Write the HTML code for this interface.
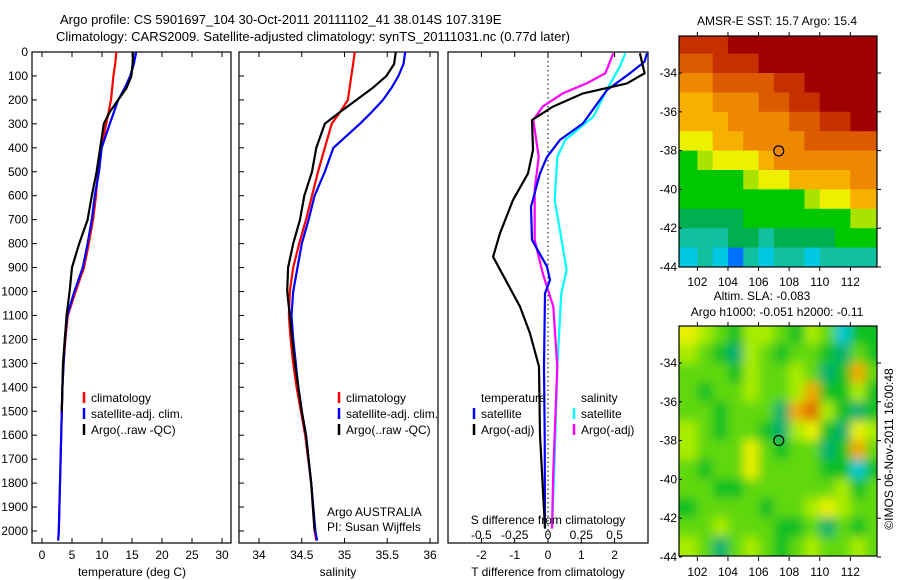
<!DOCTYPE html>
<html><head><meta charset="utf-8"><style>
html,body{margin:0;padding:0;background:#fff;}
svg{display:block;font-family:"Liberation Sans",sans-serif;}
text{font-size:12px;fill:#000;}
</style></head><body>
<svg id="fig" width="900" height="580" viewBox="0 0 900 580">
<defs>
<clipPath id="clipP3"><rect x="448" y="52" width="200" height="491"/></clipPath>
<clipPath id="clipSLA"><rect x="679" y="326" width="198" height="230"/></clipPath>
<filter id="blur" x="-10%" y="-10%" width="120%" height="120%"><feGaussianBlur stdDeviation="5"/></filter>
</defs>
<text x="60" y="24" style="font-size:13px">Argo profile: CS 5901697_104 30-Oct-2011 20111102_41 38.014S 107.319E</text>
<text x="56" y="41" style="font-size:13px">Climatology: CARS2009. Satellite-adjusted climatology: synTS_20111031.nc (0.77d later)</text>
<g id="g"></g>
</svg>
<script>
// ---------- data ----------
const depths = [0,50,100,150,200,250,300,400,500,600,700,800,900,1000,1100,1200,1300,1400,1500,1600,1800,2000,2040];
const tempClim = [12.4,12.2,11.9,11.7,11.5,11.1,10.7,9.9,9.3,9.0,8.5,7.8,7.0,5.6,4.3,3.9,3.6,3.4,3.3,3.2,3.0,2.8,2.7];
const tempSat  = [15.7,15.3,14.7,13.8,12.7,12.0,11.3,9.95,9.5,8.8,8.3,7.6,6.8,5.4,4.2,3.8,3.6,3.4,3.3,3.2,3.0,2.8,2.7];
const tempArgo = [15.2,15.1,14.9,14.1,12.7,11.3,10.3,9.7,9.1,8.3,7.6,6.2,5.0,4.6,4.1,3.8,3.5,3.4,3.3,null,null,null,null];
const salClim = [35.12,35.10,35.08,35.06,35.04,34.95,34.85,34.77,34.69,34.62,34.55,34.47,34.40,34.36,34.35,34.37,34.40,34.44,34.49,34.54,34.61,34.65,34.67];
const salSat  = [35.71,35.69,35.63,35.55,35.45,35.32,35.18,34.87,34.77,34.65,34.58,34.50,34.45,34.40,34.38,34.40,34.43,34.46,34.50,34.55,34.61,34.66,34.68];
const salArgo = [35.60,35.58,35.49,35.33,35.14,34.95,34.77,34.67,34.62,34.53,34.48,34.40,34.34,34.33,34.36,34.39,34.42,34.46,34.50,34.55,34.61,34.65,null];
const dtArgoDepth = [5,89,131,173,228,284,409,507,618,757,855,924,1063,1175,1314,1600,1990];
const dtArgo      = [2.76,2.9,2.37,1.05,0.15,-0.48,-0.45,-0.6,-1.05,-1.44,-1.65,-1.38,-0.84,-0.54,-0.27,-0.24,-0.09];
const dtSatDepth = [5,40,89,159,298,367,438,507,646,785,896,952,1008,1314,1600,1990];
const dtSat      = [2.97,2.9,2.46,1.77,1.05,0.36,-0.03,-0.24,-0.51,-0.48,-0.03,0.06,-0.09,-0.12,-0.1,-0.09];
const dsArgoDepth = [5,89,131,173,228,284,438,576,785,924,1063,1314,1745,1990];
const dsArgo      = [0.49,0.43,0.29,0.11,-0.04,-0.11,-0.07,-0.1,-0.1,-0.04,0.04,0.07,0.04,0.03];
const dsSatDepth = [5,61,159,270,367,438,618,813,910,1008,1314,1700,1990];
const dsSat      = [0.58,0.54,0.44,0.34,0.13,0.07,0.05,0.11,0.14,0.1,0.07,0.05,0.03];
const depthTicks = [0,100,200,300,400,500,600,700,800,900,1000,1100,1200,1300,1400,1500,1600,1700,1800,1900,2000];
const tempTicks = [0,5,10,15,20,25,30];
const salTicks = [34,34.5,35,35.5,36];
const salTickLabels = ["34","34.5","35","35.5","36"];
const dTTicks = [-2,-1,0,1,2];
const dSTicks = [-0.5,-0.25,0,0.25,0.5];
const dSTickLabels = ["-0.5","-0.25","0","0.25","0.5"];
const lonTicks = [102,104,106,108,110,112];
const latTicks = [-34,-36,-38,-40,-42,-44];
const sstRows = ["1110000000000","2211100000000","3322221100000","4433322110000","4443333221100",
 "5544333322222","7655543333333","7777655444433","7777777765544","8888777777766","9998898888777","a9ab9a99a9999"];
const sstColors = ["#a00000","#c43000","#dc5a00","#ee8800","#f8b000","#eef000","#a8e400","#00c800","#00b050","#10c0a0","#00c8e0","#0070ff"];
const slaRows = ["5432443243022","4321432332132","3332433431263","3233433462242","3323331674212","4323321452154",
 "4333532331263","3233533332202","3322333333423","2333323345433","3343332231323","4313432343343"];
const slaColors = ["#00c8d0","#00b070","#10c020","#60d810","#a8ec00","#e8f000","#f0a800","#e07000"];
const argoLon = 107.319, argoLat = -38.014;

// ---------- helpers ----------
const NS="http://www.w3.org/2000/svg";
const G=document.getElementById('g');
function mk(tag,attrs,parent){const e=document.createElementNS(NS,tag);for(const k in attrs)e.setAttribute(k,attrs[k]);(parent||G).appendChild(e);return e;}
function txt(x,y,s,anchor,parent,size){const e=mk('text',{x:x,y:y,'text-anchor':anchor||'start'},parent);if(size)e.style.fontSize=size+'px';e.textContent=s;return e;}
const yD = d => 52 + d*0.2395;
const xT = t => 42 + t*6;
const xS = s => 259 + (s-34)*85.5;
const xDT = t => 548 + t*33.3;
const xDS = s => 548 + s*133.2;
function line(xs, ds, xf, color, name, parent){
  let p='';let pen=false;
  for(let i=0;i<xs.length;i++){ if(xs[i]==null){pen=false;continue;} p+=(pen?'L':'M')+xf(xs[i]).toFixed(1)+','+yD(ds[i]).toFixed(1);pen=true;}
  const e=mk('path',{d:p,fill:'none',stroke:color,'stroke-width':2.2,'stroke-linejoin':'round'},parent);
  
  
  return e;
}
function frame(x,y,w,h,name){const e=mk('rect',{x:x,y:y,width:w,height:h,fill:'none',stroke:'#000','stroke-width':1.2});
  
  }
function legend(x,y,items,name){
  const g=mk('g',{});
  
  
  items.forEach((it,i)=>{ if(it[0]) mk('line',{x1:x,x2:x,y1:y+i*16-10,y2:y+i*16+1,stroke:it[0],'stroke-width':2.5},g); txt(x+7,y+i*16,it[1],'start',g);});
}

// ---------- panel 1 ----------
frame(32,52,199,491,'temperature-panel');
depthTicks.forEach(d=>{ mk('line',{x1:32,x2:37,y1:yD(d),y2:yD(d),stroke:'#000'}); const t=txt(28,yD(d)+4,String(d),'end');  });
tempTicks.forEach(t=>{ mk('line',{x1:xT(t),x2:xT(t),y1:52,y2:57,stroke:'#000'}); mk('line',{x1:xT(t),x2:xT(t),y1:538,y2:543,stroke:'#000'}); txt(xT(t),559,String(t),'middle');});
line(tempClim,depths,xT,'#ff0000','temp-climatology-line');
line(tempSat,depths,xT,'#0000ff','temp-satellite-line');
line(tempArgo,depths,xT,'#000000','temp-argo-line');
legend(84,402,[['#ff0000','climatology'],['#0000ff','satellite-adj. clim.'],['#000','Argo(..raw -QC)']],'temperature-legend');
txt(132,576,'temperature (deg C)','middle');

// ---------- panel 2 ----------
frame(239,52,199,491,'salinity-panel');
depthTicks.forEach(d=>{ mk('line',{x1:239,x2:244,y1:yD(d),y2:yD(d),stroke:'#000'});});
salTicks.forEach((s,i)=>{ mk('line',{x1:xS(s),x2:xS(s),y1:52,y2:57,stroke:'#000'}); mk('line',{x1:xS(s),x2:xS(s),y1:538,y2:543,stroke:'#000'}); txt(xS(s),559,salTickLabels[i],'middle');});
line(salClim,depths,xS,'#ff0000','sal-climatology-line');
line(salSat,depths,xS,'#0000ff','sal-satellite-line');
line(salArgo,depths,xS,'#000000','sal-argo-line');
legend(339,402,[['#ff0000','climatology'],['#0000ff','satellite-adj. clim.'],['#000','Argo(..raw -QC)']],'salinity-legend');
txt(327,516,'Argo AUSTRALIA','start');
txt(327,531,'PI: Susan Wijffels','start');
txt(338,576,'salinity','middle');

// ---------- panel 3 ----------
frame(448,52,200,491,'difference-panel');
dTTicks.forEach(t=>{ mk('line',{x1:xDT(t),x2:xDT(t),y1:52,y2:57,stroke:'#000'}); mk('line',{x1:xDT(t),x2:xDT(t),y1:538,y2:543,stroke:'#000'}); txt(xDT(t),559,String(t),'middle');});
mk('line',{x1:548,x2:548,y1:52,y2:543,stroke:'#000','stroke-dasharray':'1.5,3'});
const p3=mk('g',{'clip-path':'url(#clipP3)'});
line(dsSat,dsSatDepth,xDS,'#00ffff','sal-diff-satellite-line',p3);
line(dsArgo,dsArgoDepth,xDS,'#ff00ff','sal-diff-argo-line',p3);
line(dtSat,dtSatDepth,xDT,'#0000ff','temp-diff-satellite-line',p3);
line(dtArgo,dtArgoDepth,xDT,'#000000','temp-diff-argo-line',p3);
legend(474,402,[[null,'temperature'],['#0000ff','satellite'],['#000','Argo(-adj)']],'temp-diff-legend');
legend(574,402,[[null,'salinity'],['#00ffff','satellite'],['#ff00ff','Argo(-adj)']],'sal-diff-legend');
txt(548,524,'S difference from climatology','middle');
dSTicks.forEach((s,i)=>txt(xDS(s),539,dSTickLabels[i],'middle'));
txt(548,576,'T difference from climatology','middle');

// ---------- maps ----------
const xL = lon => 679 + (lon-100.8)*15.3;
function mapAxes(top,name){
  const yLat = lat => top+37 + (-34-lat)*19.4;
  frame(679,top,198,top===36?231:230,name);
  lonTicks.forEach(l=>{ mk('line',{x1:xL(l),x2:xL(l),y1:top,y2:top-4,stroke:'#000'}); mk('line',{x1:xL(l),x2:xL(l),y1:top+231,y2:top+235,stroke:'#000'}); txt(xL(l),top+250,String(l),'middle');});
  latTicks.forEach(l=>{ mk('line',{x1:679,x2:682,y1:yLat(l),y2:yLat(l),stroke:'#000'}); mk('line',{x1:877,x2:881,y1:yLat(l),y2:yLat(l),stroke:'#000'}); txt(677,yLat(l)+4,String(l),'end');});
}
const yS = lat => 73 + (-34-lat)*19.4;
const sstG=mk('g',{});


sstRows.forEach((row,r)=>{ for(let c=0;c<row.length;c++){ const v=parseInt(row[c],16);
  const x0=Math.max(679,xL(101+c)-(c===0?4:0)), x1=Math.min(877,xL(102+c)+(c===row.length-1?20:0));
  const y0=Math.max(36,yS(-32-r)), y1=Math.min(267,yS(-33-r));
  const cell=mk('rect',{x:x0,y:y0,width:x1-x0+0.5,height:y1-y0+0.5,fill:sstColors[v]},sstG);
  
  
}});
mapAxes(36,'sst-map-frame');
txt(777,25,'AMSR-E SST: 15.7 Argo: 15.4','middle');
mk('circle',{cx:xL(argoLon),cy:yS(argoLat),r:5,fill:'none',stroke:'#000','stroke-width':1.2});
const yA = lat => 363 + (-34-lat)*19.3;
const slaClip=mk('g',{'clip-path':'url(#clipSLA)'});
mk('rect',{x:679,y:326,width:198,height:230,fill:'#80e000'},slaClip);
const slaG=mk('g',{filter:'url(#blur)'},slaClip);


slaRows.forEach((row,r)=>{ for(let c=0;c<row.length;c++){ const v=parseInt(row[c],16);
  const x0=xL(101+c)-(c===0?10:0), x1=xL(102+c)+(c===row.length-1?20:0);
  const y0=yA(-32-r)-(r===0?10:0), y1=yA(-33-r)+(r===slaRows.length-1?10:0);
  const cell=mk('rect',{x:x0,y:y0,width:x1-x0+0.5,height:y1-y0+0.5,fill:slaColors[v]},slaG);
  
  
}});
mapAxes(326,'sla-map-frame');
txt(762,300,'Altim. SLA: -0.083','middle');
txt(777,316,'Argo h1000: -0.051 h2000: -0.11','middle');
mk('circle',{cx:xL(argoLon),cy:yA(argoLat),r:5,fill:'none',stroke:'#000','stroke-width':1.2});
const cr=txt(0,0,'©IMOS 06-Nov-2011 16:00:48','middle');
cr.setAttribute('transform','translate(893,449) rotate(-90)');


</script>
</body></html>
